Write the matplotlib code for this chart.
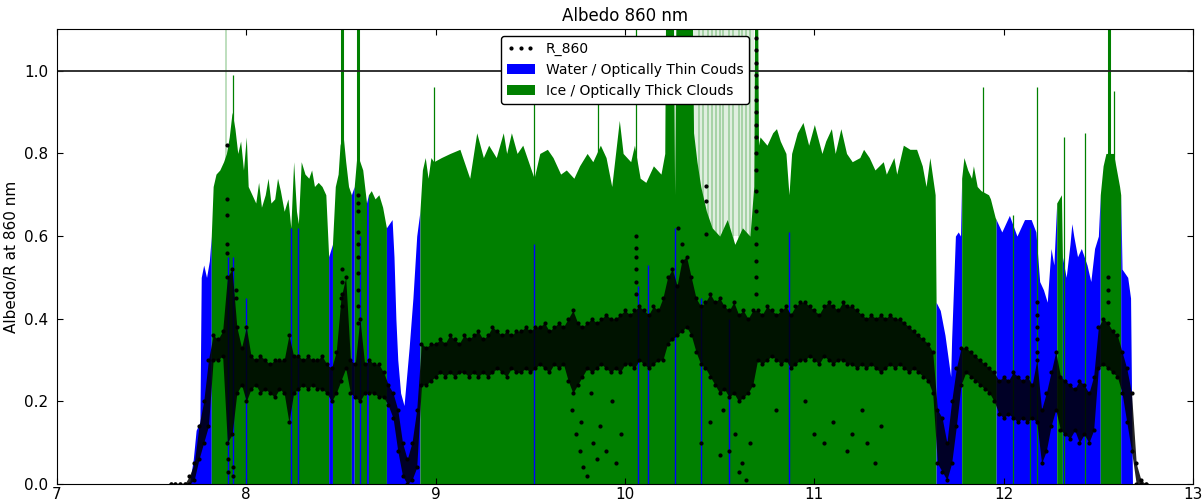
import matplotlib
matplotlib.use("Agg")
import matplotlib.pyplot as plt
import numpy as np
from matplotlib.lines import Line2D
from matplotlib.patches import Patch

BLUE = "#0000ff"
GREEN = "#008000"

# cloud top envelope (albedo), sampled along the flight
env_x = [
    7.700, 7.720, 7.735, 7.755, 7.762, 7.775, 7.790, 7.805, 7.815, 7.825,
    7.840, 7.860, 7.880, 7.895, 7.910, 7.925, 7.940, 7.955, 7.970, 7.985,
    8.000, 8.010, 8.030, 8.050, 8.065, 8.080, 8.100, 8.115, 8.130, 8.150,
    8.165, 8.180, 8.200, 8.220, 8.235, 8.250, 8.265, 8.275, 8.290, 8.310,
    8.330, 8.345, 8.360, 8.380, 8.400, 8.420, 8.435, 8.455, 8.470, 8.485,
    8.495, 8.510, 8.525, 8.540, 8.555, 8.570, 8.585, 8.600, 8.615, 8.635,
    8.645, 8.660, 8.680, 8.700, 8.720, 8.740, 8.755, 8.770, 8.780, 8.790,
    8.800, 8.815, 8.833, 8.860, 8.880, 8.900, 8.917, 8.930, 8.945, 8.960,
    8.975, 8.990, 9.030, 9.076, 9.128, 9.180, 9.217, 9.252, 9.280, 9.320,
    9.357, 9.375, 9.400, 9.430, 9.460, 9.490, 9.520, 9.550, 9.590, 9.620,
    9.660, 9.690, 9.730, 9.760, 9.800, 9.830, 9.870, 9.900, 9.930, 9.970,
    9.990, 10.030, 10.050, 10.080, 10.110, 10.150, 10.190, 10.210, 10.215, 10.255,
    10.262, 10.270, 10.355, 10.362, 10.380, 10.400, 10.430, 10.460, 10.500, 10.540,
    10.580, 10.620, 10.660, 10.680, 10.685, 10.700, 10.705, 10.713, 10.750, 10.780,
    10.800, 10.820, 10.850, 10.866, 10.880, 10.910, 10.940, 10.970, 11.000, 11.040,
    11.060, 11.090, 11.110, 11.140, 11.170, 11.200, 11.240, 11.260, 11.290, 11.320,
    11.364, 11.380, 11.420, 11.435, 11.470, 11.505, 11.540, 11.570, 11.590, 11.610,
    11.638, 11.643, 11.665, 11.690, 11.720, 11.725, 11.745, 11.760, 11.772, 11.778,
    11.790, 11.810, 11.830, 11.840, 11.860, 11.880, 11.920, 11.930, 11.955, 11.960,
    11.990, 12.030, 12.070, 12.110, 12.145, 12.170, 12.190, 12.210, 12.230, 12.250,
    12.265, 12.280, 12.305, 12.310, 12.330, 12.350, 12.360, 12.370, 12.390, 12.410,
    12.440, 12.460, 12.480, 12.500, 12.510, 12.525, 12.540, 12.580, 12.600, 12.612,
    12.618, 12.625, 12.640, 12.655, 12.670, 12.680,
]
env_top = [
    0.00, 0.06, 0.13, 0.15, 0.50, 0.53, 0.50, 0.54, 0.60, 0.72,
    0.75, 0.76, 0.78, 0.80, 0.84, 0.90, 0.86, 0.80, 0.83, 0.76,
    0.84, 0.72, 0.70, 0.68, 0.73, 0.67, 0.70, 0.74, 0.68, 0.69,
    0.74, 0.71, 0.66, 0.69, 0.62, 0.78, 0.66, 0.63, 0.78, 0.75,
    0.74, 0.76, 0.72, 0.73, 0.72, 0.70, 0.55, 0.58, 0.72, 0.75,
    0.82, 0.85, 0.78, 0.72, 0.70, 0.72, 0.80, 0.78, 0.76, 0.68,
    0.70, 0.71, 0.69, 0.70, 0.67, 0.62, 0.63, 0.64, 0.55, 0.40,
    0.30, 0.22, 0.19, 0.33, 0.45, 0.60, 0.66, 0.76, 0.79, 0.74,
    0.79, 0.78, 0.79, 0.80, 0.81, 0.74, 0.85, 0.79, 0.82, 0.79,
    0.85, 0.80, 0.85, 0.80, 0.82, 0.78, 0.74, 0.80, 0.81, 0.79,
    0.75, 0.76, 0.74, 0.77, 0.80, 0.78, 0.82, 0.79, 0.72, 0.88,
    0.80, 0.78, 0.82, 0.74, 0.73, 0.77, 0.75, 0.80, 1.20, 1.20,
    0.70, 1.20, 1.20, 0.85, 0.78, 0.72, 0.66, 0.62, 0.60, 0.64,
    0.58, 0.62, 0.60, 0.72, 1.20, 1.20, 0.82, 0.84, 0.82, 0.85,
    0.86, 0.83, 0.80, 0.70, 0.80, 0.85, 0.875, 0.82, 0.87, 0.80,
    0.83, 0.86, 0.80, 0.86, 0.80, 0.78, 0.79, 0.81, 0.79, 0.76,
    0.78, 0.75, 0.79, 0.75, 0.82, 0.81, 0.81, 0.77, 0.72, 0.79,
    0.70, 0.44, 0.42, 0.36, 0.26, 0.35, 0.60, 0.61, 0.60, 0.74,
    0.79, 0.76, 0.74, 0.77, 0.72, 0.71, 0.70, 0.69, 0.645, 0.64,
    0.61, 0.65, 0.60, 0.64, 0.64, 0.61, 0.49, 0.47, 0.44, 0.57,
    0.53, 0.68, 0.70, 0.55, 0.50, 0.58, 0.63, 0.60, 0.55, 0.57,
    0.53, 0.49, 0.57, 0.60, 0.70, 0.77, 0.80, 0.80, 0.75, 0.72,
    0.70, 0.52, 0.51, 0.50, 0.45, 0.00,
]
# spans flagged as water / optically thin (everything else is ice)
water_spans = [
    (7.700, 7.815), (8.435, 8.455), (8.555, 8.570), (8.635, 8.645),
    (8.740, 8.917), (11.643, 11.778), (11.960, 12.280), (12.310, 12.510),
    (12.618, 12.680),
]
# short water samples inside ice stretches
water_lines_x = [7.905, 7.930, 8.000, 8.234, 8.273, 8.600, 9.520, 10.070,
                 10.120, 10.262, 10.400, 10.550, 10.866]
water_lines_top = [0.55, 0.55, 0.45, 0.62, 0.62, 0.60, 0.58, 0.48,
                   0.53, 0.62, 0.45, 0.40, 0.61]
# single ice samples reaching high
spike_x = [7.930, 8.990, 9.520, 9.860, 10.060, 11.890, 12.048, 12.140,
           12.175, 12.320, 12.430, 12.580]
spike_top = [0.99, 0.96, 0.92, 0.92, 1.20, 0.96, 0.65, 0.62,
             0.96, 0.84, 0.85, 0.95]
wide_spike_x = [8.505, 8.590, 12.556]
faded_x = [7.895, 10.39, 10.41, 10.44, 10.46, 10.48, 10.50, 10.52,
           10.55, 10.57, 10.60, 10.62, 10.64, 10.66]

# R_860 reflectance: lower / upper edge of the point cloud, every 0.025 h from 7.6
r_lo = [
    0.00, 0.00, 0.00, 0.00,
    0.00, 0.01, 0.06, 0.10, 0.14, 0.30, 0.30, 0.31, 0.10, 0.12,
    0.22, 0.24, 0.20, 0.23, 0.24, 0.22, 0.23, 0.22, 0.21, 0.23,
    0.22, 0.15, 0.22, 0.23, 0.24, 0.23, 0.24, 0.23, 0.23, 0.22,
    0.20, 0.22, 0.25, 0.28, 0.22, 0.21, 0.20, 0.22, 0.22, 0.22,
    0.21, 0.21, 0.19, 0.16, 0.08, 0.02, 0.00, 0.01, 0.04, 0.24,
    0.24, 0.25, 0.26, 0.27, 0.26, 0.27, 0.26, 0.27, 0.27, 0.26,
    0.27, 0.26, 0.27, 0.26, 0.27, 0.28, 0.27, 0.26, 0.28, 0.27,
    0.27, 0.28, 0.27, 0.28, 0.29, 0.28, 0.27, 0.29, 0.28, 0.29,
    0.25, 0.22, 0.24, 0.26, 0.28, 0.27, 0.28, 0.29, 0.28, 0.27,
    0.28, 0.27, 0.29, 0.29, 0.28, 0.30, 0.29, 0.28, 0.29, 0.30,
    0.30, 0.34, 0.35, 0.36, 0.37, 0.38, 0.36, 0.32, 0.29, 0.28,
    0.26, 0.24, 0.22, 0.23, 0.21, 0.22, 0.20, 0.21, 0.22, 0.24,
    0.30, 0.29, 0.30, 0.31, 0.30, 0.29, 0.30, 0.28, 0.29, 0.30,
    0.30, 0.31, 0.30, 0.29, 0.31, 0.30, 0.29, 0.30, 0.30, 0.29,
    0.29, 0.28, 0.29, 0.28, 0.29, 0.28, 0.27, 0.28, 0.29, 0.28,
    0.29, 0.28, 0.27, 0.28, 0.27, 0.26, 0.25, 0.22, 0.05, 0.03,
    0.01, 0.05, 0.14, 0.24, 0.27, 0.26, 0.25, 0.24, 0.23, 0.22,
    0.20, 0.17, 0.16, 0.17, 0.16, 0.15, 0.16, 0.15, 0.16, 0.15,
    0.05, 0.08, 0.14, 0.18, 0.13, 0.12, 0.11, 0.13, 0.10, 0.12,
    0.10, 0.13, 0.28, 0.29, 0.28, 0.27, 0.26, 0.22, 0.15, 0.08,
    0.00, 0.00, 0.00,
]
r_hi = [
    0.00, 0.00, 0.00, 0.00,
    0.02, 0.05, 0.14, 0.20, 0.30, 0.36, 0.35, 0.37, 0.50, 0.52,
    0.38, 0.33, 0.38, 0.31, 0.30, 0.31, 0.30, 0.29, 0.30, 0.30,
    0.30, 0.36, 0.31, 0.31, 0.30, 0.31, 0.30, 0.30, 0.31, 0.29,
    0.28, 0.32, 0.45, 0.50, 0.30, 0.29, 0.40, 0.29, 0.30, 0.29,
    0.29, 0.27, 0.24, 0.22, 0.18, 0.10, 0.06, 0.10, 0.18, 0.34,
    0.33, 0.34, 0.34, 0.35, 0.34, 0.36, 0.35, 0.34, 0.36, 0.35,
    0.36, 0.37, 0.35, 0.36, 0.38, 0.37, 0.36, 0.37, 0.36, 0.37,
    0.37, 0.38, 0.37, 0.38, 0.38, 0.39, 0.37, 0.38, 0.39, 0.38,
    0.40, 0.42, 0.39, 0.38, 0.39, 0.40, 0.39, 0.40, 0.41, 0.40,
    0.40, 0.41, 0.42, 0.41, 0.42, 0.43, 0.42, 0.41, 0.43, 0.42,
    0.45, 0.50, 0.52, 0.48, 0.54, 0.55, 0.50, 0.45, 0.43, 0.44,
    0.46, 0.44, 0.45, 0.43, 0.42, 0.44, 0.41, 0.42, 0.40, 0.42,
    0.42, 0.41, 0.43, 0.42, 0.41, 0.42, 0.43, 0.41, 0.43, 0.44,
    0.44, 0.43, 0.42, 0.41, 0.43, 0.44, 0.43, 0.42, 0.44, 0.43,
    0.43, 0.42, 0.41, 0.40, 0.41, 0.40, 0.41, 0.40, 0.41, 0.40,
    0.40, 0.39, 0.38, 0.37, 0.36, 0.35, 0.34, 0.32, 0.18, 0.16,
    0.10, 0.20, 0.28, 0.33, 0.33, 0.32, 0.31, 0.30, 0.29, 0.28,
    0.27, 0.25, 0.26, 0.25, 0.27, 0.26, 0.25, 0.26, 0.24, 0.30,
    0.18, 0.22, 0.27, 0.32, 0.26, 0.25, 0.24, 0.23, 0.25, 0.24,
    0.22, 0.26, 0.38, 0.40, 0.39, 0.37, 0.36, 0.32, 0.28, 0.22,
    0.05, 0.01, 0.00,
]
# isolated R_860 points outside the main cloud
out_x = [7.896, 7.896, 7.896, 7.900, 7.900, 7.905, 7.905, 7.930, 7.930, 7.945, 7.945,
         8.503, 8.503, 8.505, 8.505,
         8.590, 8.590, 8.590, 8.590, 8.590, 8.590, 8.590, 8.590, 8.590, 8.590,
         9.720, 9.740, 9.760, 9.780, 9.800, 9.770, 9.830, 9.850, 9.870, 9.900,
         9.950, 9.980, 9.930, 9.820,
         10.060, 10.060, 10.060, 10.060, 10.060, 10.060,
         10.306, 10.280, 10.300, 10.430, 10.430, 10.430,
         10.400, 10.450, 10.500, 10.550, 10.580, 10.600, 10.620, 10.640, 10.660, 10.520,
         10.690, 10.690, 10.690, 10.690, 10.690, 10.690, 10.690, 10.690, 10.690,
         10.690, 10.690, 10.690, 10.690, 10.690, 10.690, 10.690, 10.690, 10.690,
         11.000, 11.050, 11.100, 11.170, 11.200, 11.250, 11.280, 11.320, 11.350,
         10.950, 10.800,
         12.175, 12.175, 12.175, 12.175, 12.175, 12.550, 12.550, 12.550]
out_y = [0.82, 0.69, 0.65, 0.58, 0.56, 0.03, 0.06, 0.04, 0.02, 0.47, 0.45,
         0.52, 0.49, 0.46, 0.43,
         0.70, 0.68, 0.66, 0.61, 0.58, 0.55, 0.51, 0.47, 0.43, 0.39,
         0.18, 0.12, 0.08, 0.04, 0.02, 0.15, 0.10, 0.06, 0.14, 0.08,
         0.05, 0.12, 0.20, 0.22,
         0.60, 0.57, 0.55, 0.52, 0.49, 0.46,
         1.026, 0.62, 0.58, 0.72, 0.686, 0.605,
         0.10, 0.15, 0.07, 0.08, 0.12, 0.03, 0.05, 0.01, 0.10, 0.18,
         1.08, 1.05, 1.02, 0.99, 0.96, 0.93, 0.90, 0.87, 0.84,
         0.80, 0.76, 0.71, 0.66, 0.62, 0.58, 0.54, 0.50, 0.46,
         0.12, 0.10, 0.15, 0.08, 0.12, 0.18, 0.10, 0.05, 0.14,
         0.20, 0.18,
         0.44, 0.41, 0.38, 0.35, 0.32, 0.50, 0.47, 0.44]

fig = plt.figure(figsize=(12.04, 5.04), dpi=100)
ax = fig.add_axes([0.0473, 0.0397, 0.9436, 0.9018])

x = np.array(env_x)
top = np.array(env_top)
is_water = np.zeros(len(x), dtype=bool)
for a, b in water_spans:
    is_water |= (x >= a - 1e-9) & (x < b - 1e-9)

starts = [0] + [i for i in range(1, len(x)) if is_water[i] != is_water[i - 1]]
ends = starts[1:] + [len(x) - 1]
for s, e in zip(starts, ends):
    col = BLUE if is_water[s] else GREEN
    ax.fill_between(x[s:e + 1], 0, top[s:e + 1], color=col, lw=0, zorder=1)

# faded streaks in the broken-cloud part
ax.fill_between([10.365, 10.68], 0.6, 1.1, color=GREEN, alpha=0.12, lw=0, zorder=1)
ax.vlines(faded_x, 0, 1.1, color=GREEN, alpha=0.3, lw=1.2, zorder=1)
ax.vlines(spike_x, 0, spike_top, color=GREEN, lw=0.9, zorder=1.5)
ax.vlines(wide_spike_x, 0, 1.2, color=GREEN, lw=2.2, zorder=1.5)
ax.vlines(water_lines_x, 0, water_lines_top, color=BLUE, lw=1.0, zorder=1.6)

r_x = 7.6 + 0.025 * np.arange(len(r_lo))
ax.fill_between(r_x, r_lo, r_hi, color="k", lw=0, alpha=0.85, zorder=3)
ax.plot(r_x, r_lo, "k.", ms=4, zorder=3)
ax.plot(r_x, r_hi, "k.", ms=4, zorder=3)
ax.plot(out_x, out_y, "k.", ms=4, zorder=3)

ax.axhline(1.0, color="#222222", lw=1.3, zorder=2)

ax.set_xlim(7, 13)
ax.set_ylim(0, 1.1)
ax.set_xticks([7, 8, 9, 10, 11, 12, 13])
ax.set_yticks([0.0, 0.2, 0.4, 0.6, 0.8, 1.0])
ax.set_yticklabels(["0.0", "0.2", "0.4", "0.6", "0.8", "1.0"])
ax.tick_params(direction="in", top=True, right=True, length=4, width=0.8,
               labelsize=11)
ax.tick_params(axis="x", pad=2)
ax.tick_params(axis="y", pad=6)
ax.set_title("Albedo 860 nm", fontsize=12)
ax.set_ylabel("Albedo/R at 860 nm", fontsize=11)

handles = [
    Line2D([], [], color="k", marker=".", ls="none", ms=4),
    Patch(facecolor=BLUE, edgecolor="none"),
    Patch(facecolor=GREEN, edgecolor="none"),
]
labels = ["R_860", "Water / Optically Thin Couds", "Ice / Optically Thick Clouds"]
leg = ax.legend(handles, labels, loc="upper center", fontsize=10, numpoints=3,
                fancybox=True, framealpha=1, edgecolor="k")
leg.get_frame().set_linewidth(1.0)

fig.savefig("out.png", dpi=100)
